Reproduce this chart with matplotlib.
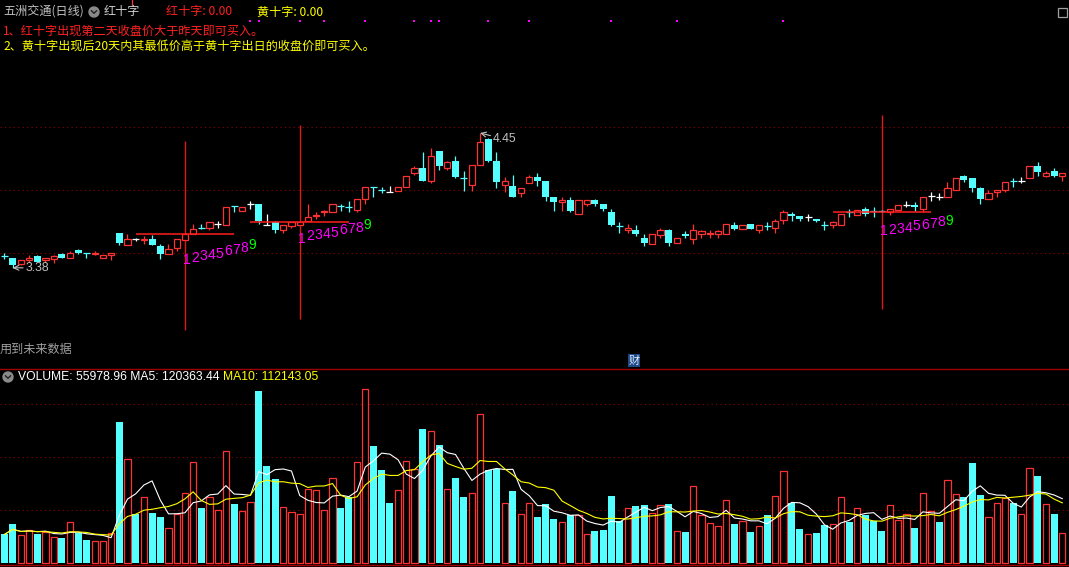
import matplotlib

matplotlib.use("Agg")
import matplotlib.pyplot as plt
import matplotlib.transforms as mtransforms
import numpy as np
import pandas as pd
from matplotlib.patches import Circle, Rectangle

W, H = 1069, 567

# ── daily candles (price) ──
opens = [3.47, 3.46, 3.41, 3.44, 3.47, 3.44, 3.45, 3.49, 3.46, 3.52,
         3.50, 3.49, 3.46, 3.48, 3.66, 3.56, 3.61, 3.60, 3.61, 3.55,
         3.49, 3.54, 3.60, 3.65, 3.70, 3.70, 3.73, 3.72, 3.87, 3.83,
         3.89, 3.89, 3.72, 3.74, 3.68, 3.71, 3.72, 3.75, 3.79, 3.82,
         3.82, 3.87, 3.86, 3.84, 3.93, 4.02, 4.00, 3.98, 3.99, 4.02,
         4.13, 4.17, 4.07, 4.31, 4.17, 4.23, 4.09, 4.04, 4.20, 4.40,
         4.23, 4.04, 4.03, 3.97, 4.05, 4.10, 4.07, 3.94, 3.90, 3.92,
         3.81, 3.89, 3.92, 3.89, 3.82, 3.71, 3.68, 3.68, 3.62, 3.57,
         3.64, 3.68, 3.58, 3.65, 3.61, 3.65, 3.65, 3.65, 3.65, 3.72,
         3.69, 3.73, 3.68, 3.71, 3.70, 3.76, 3.81, 3.79, 3.78, 3.77,
         3.72, 3.72, 3.72, 3.82, 3.80, 3.85, 3.83, 3.83, 3.82, 3.84,
         3.88, 3.88, 3.85, 3.95, 3.94, 3.94, 4.00, 4.11, 4.09, 4.01,
         3.93, 3.98, 4.00, 4.07, 4.07, 4.09, 4.19, 4.11, 4.15, 4.11]
highs = [3.50, 3.46, 3.44, 3.48, 3.48, 3.46, 3.48, 3.50, 3.51, 3.53,
         3.50, 3.51, 3.48, 3.50, 3.66, 3.65, 3.62, 3.63, 3.64, 3.57,
         3.57, 3.61, 3.65, 3.73, 3.73, 3.74, 3.75, 3.86, 3.87, 3.86,
         3.91, 3.89, 3.81, 3.75, 3.72, 3.74, 3.74, 3.89, 3.82, 3.84,
         3.89, 3.89, 3.91, 3.93, 4.02, 4.02, 4.02, 4.03, 4.02, 4.11,
         4.19, 4.30, 4.33, 4.31, 4.23, 4.27, 4.15, 4.20, 4.45, 4.41,
         4.30, 4.10, 4.12, 4.01, 4.12, 4.13, 4.07, 3.94, 3.94, 3.94,
         3.92, 3.92, 3.93, 3.89, 3.85, 3.74, 3.73, 3.72, 3.65, 3.65,
         3.70, 3.69, 3.62, 3.67, 3.73, 3.68, 3.68, 3.68, 3.73, 3.74,
         3.72, 3.73, 3.72, 3.74, 3.77, 3.84, 3.82, 3.79, 3.81, 3.77,
         3.75, 3.75, 3.81, 3.85, 3.84, 3.86, 3.86, 3.84, 3.85, 3.88,
         3.91, 3.90, 3.94, 3.98, 3.97, 4.06, 4.09, 4.12, 4.09, 4.02,
         4.00, 4.00, 4.06, 4.09, 4.10, 4.19, 4.22, 4.15, 4.17, 4.13]
lows = [3.45, 3.38, 3.40, 3.43, 3.43, 3.43, 3.42, 3.46, 3.46, 3.49,
        3.46, 3.48, 3.46, 3.44, 3.56, 3.56, 3.59, 3.57, 3.56, 3.45,
        3.49, 3.51, 3.60, 3.65, 3.69, 3.68, 3.70, 3.72, 3.82, 3.83,
        3.85, 3.73, 3.72, 3.66, 3.66, 3.70, 3.72, 3.75, 3.77, 3.79,
        3.82, 3.83, 3.82, 3.82, 3.89, 3.94, 3.97, 3.98, 3.99, 4.02,
        4.12, 4.07, 4.05, 4.16, 4.16, 4.09, 3.99, 3.99, 4.20, 4.22,
        4.01, 3.98, 3.94, 3.94, 4.05, 4.03, 3.91, 3.83, 3.83, 3.82,
        3.81, 3.87, 3.87, 3.83, 3.71, 3.66, 3.66, 3.63, 3.55, 3.57,
        3.62, 3.55, 3.58, 3.62, 3.57, 3.62, 3.62, 3.62, 3.65, 3.68,
        3.69, 3.69, 3.66, 3.68, 3.66, 3.73, 3.75, 3.75, 3.75, 3.74,
        3.68, 3.70, 3.72, 3.78, 3.80, 3.79, 3.78, 3.82, 3.80, 3.84,
        3.86, 3.83, 3.82, 3.91, 3.92, 3.94, 4.00, 4.06, 3.98, 3.89,
        3.93, 3.94, 3.98, 4.02, 4.05, 4.09, 4.11, 4.10, 4.10, 4.07]
closes = [3.47, 3.40, 3.44, 3.46, 3.43, 3.46, 3.47, 3.46, 3.50, 3.50,
          3.50, 3.50, 3.48, 3.50, 3.58, 3.61, 3.61, 3.61, 3.56, 3.49,
          3.53, 3.61, 3.65, 3.69, 3.70, 3.74, 3.73, 3.86, 3.87, 3.86,
          3.89, 3.75, 3.72, 3.68, 3.72, 3.74, 3.74, 3.78, 3.80, 3.83,
          3.89, 3.87, 3.86, 3.93, 4.02, 4.02, 4.00, 3.98, 4.02, 4.11,
          4.17, 4.07, 4.27, 4.19, 4.22, 4.10, 4.09, 4.20, 4.38, 4.23,
          4.06, 4.07, 3.94, 4.01, 4.10, 4.07, 3.94, 3.90, 3.92, 3.83,
          3.92, 3.92, 3.89, 3.85, 3.72, 3.71, 3.70, 3.65, 3.58, 3.65,
          3.68, 3.58, 3.62, 3.63, 3.68, 3.67, 3.66, 3.67, 3.73, 3.69,
          3.72, 3.69, 3.72, 3.71, 3.75, 3.82, 3.79, 3.77, 3.78, 3.75,
          3.72, 3.74, 3.81, 3.82, 3.84, 3.81, 3.83, 3.83, 3.85, 3.88,
          3.88, 3.86, 3.94, 3.95, 3.94, 4.01, 4.09, 4.08, 4.01, 3.93,
          3.97, 4.00, 4.06, 4.07, 4.07, 4.19, 4.14, 4.13, 4.11, 4.13]
# r = up (hollow red), c = down (cyan), w = white doji
candle_kind = ("ccrrcrrcrc" "crrrcrwrcc" "rrrrcrwrcr" "wcwcrrrrrr"
               "rccrrccwrr" "rcrcrccrrc" "crcrrcccrc" "rrccccrccr"
               "rcrcrrrrrc" "rcrcrrccwc" "crrcrcccrr" "wcrwwrrccc"
               "rrrcwrcrcr")

# ── volume (thousand shares) ──
volumes = [53, 72, 51, 62, 53, 58, 49, 47, 77, 55,
           43, 41, 40, 55, 266, 196, 91, 123, 94, 85,
           66, 92, 132, 189, 102, 123, 100, 211, 110, 98,
           115, 323, 183, 157, 104, 96, 92, 138, 136, 100,
           160, 102, 123, 189, 327, 219, 174, 113, 136, 192,
           177, 251, 249, 221, 138, 160, 123, 132, 281, 174,
           177, 113, 134, 92, 113, 85, 111, 83, 77, 89,
           89, 53, 60, 62, 126, 79, 102, 106, 108, 94,
           109, 111, 60, 57, 145, 89, 74, 68, 117, 72,
           79, 57, 68, 89, 125, 172, 113, 64, 53, 55,
           70, 72, 123, 77, 102, 89, 79, 60, 108, 81,
           91, 66, 132, 98, 77, 155, 130, 123, 187, 128,
           85, 113, 121, 113, 91, 179, 164, 111, 92, 56]
volume_kind = ("ccrrcrrcrc" "crrrcrcrcc" "rrrrcrrrcr" "rcccrrrrrr"
               "rccrrcccrr" "rcrcrccrrc" "crcrrcccrc" "rrccccrccr"
               "rcrcrrrrrc" "rcrcrrccrc" "crrcrcccrr" "rcrrcrrccc"
               "rrrcrrcrcr")

# ── signal overlays ──
base_start = [16, 30, 101]          # horizontal base line start bar
base_end = [28, 42, 113]
base_price = [3.65, 3.74, 3.82]
signal_bar = [22, 36, 107]          # vertical marker bar
signal_top = [4.39, 4.51, 4.59]
signal_bottom = [2.89, 2.97, 3.05]
count_labels = ["1", "2", "3", "4", "5", "6", "7", "8", "9"]
count_prices = [
    [3.44, 3.46, 3.47, 3.48, 3.49, 3.51, 3.52, 3.54, 3.56],
    [3.61, 3.63, 3.64, 3.65, 3.66, 3.68, 3.69, 3.70, 3.72],
    [3.67, 3.68, 3.69, 3.70, 3.71, 3.72, 3.73, 3.74, 3.75],
]
dot_bars = [30, 31, 36, 39, 44, 50, 52, 53, 59, 64, 74, 82, 95]
price_grid = [3.5, 4.0, 4.5]
volume_grid = [100000, 200000, 300000]

RED = "#ff3232"
CYAN = "#54ffff"
GRID = "#8c0000"
GRAY = "#c0c0c0"
kind_color = {"r": RED, "c": CYAN, "w": "white"}

plt.rcParams["font.family"] = ["Noto Sans CJK SC", "DejaVu Sans"]
NUM_FONT = ["Liberation Sans", "DejaVu Sans"]

fig = plt.figure(figsize=(W / 100, H / 100), dpi=100, facecolor="black")

SPLIT = 369
ax = fig.add_axes([0, 1 - SPLIT / H, 1, SPLIT / H])
axv = fig.add_axes([0, 0, 1, (H - SPLIT) / H])
for a in (ax, axv):
    a.set_facecolor("black")
    a.set_axis_off()
    a.set_xlim(-4.5 / 8.2, (W - 4.5) / 8.2)
ax.set_ylim(5.5056 - SPLIT / 126, 5.5056)
axv.set_ylim(-(H - 562.5) / 53 * 1e5, (562.5 - SPLIT) / 53 * 1e5)

# ── Price panel ──
for p in price_grid:
    ax.axhline(p, color=GRID, lw=0.8, ls=(0, (1, 3)), zorder=0)

o = np.array(opens)
h = np.array(highs)
l = np.array(lows)
c = np.array(closes)
x = np.arange(len(c))
kinds = np.array(list(candle_kind))
cols = [kind_color[k] for k in kinds]

ax.vlines(x, l, h, colors=cols, lw=0.9, zorder=2)
up = c > o
dn = c < o
flat = c == o
ax.bar(x[up], (c - o)[up], bottom=o[up], width=0.74, facecolor="black",
       edgecolor=[cols[i] for i in x[up]], lw=0.9, zorder=3)
ax.bar(x[dn], (o - c)[dn], bottom=c[dn], width=0.84,
       color=[cols[i] for i in x[dn]], lw=0, zorder=3)
ax.hlines(o[flat], x[flat] - 0.42, x[flat] + 0.42,
          colors=[cols[i] for i in x[flat]], lw=0.9, zorder=3)

# base lines, signal bars, day counters
for s, e, p in zip(base_start, base_end, base_price):
    ax.hlines(p, s, e, color="#ff1e1e", lw=1.1, zorder=4)
for b, t, btm in zip(signal_bar, signal_top, signal_bottom):
    ax.vlines(b, btm, t, color="#e01818", lw=1.0, zorder=1)
for b, prices in zip(signal_bar, count_prices):
    for k, (lab, p) in enumerate(zip(count_labels, prices)):
        ax.text(b + k + 0.25, p, lab, color="#00ff00" if lab == "9" else "#ff00ff",
                fontsize=10, family=NUM_FONT, ha="center", va="center", zorder=5)

dot_tr = mtransforms.blended_transform_factory(ax.transData, ax.transAxes)
ax.plot(dot_bars, [1 - 21 / SPLIT] * len(dot_bars), "s", color="#ff00ff",
        ms=2, mew=0, transform=dot_tr)

# high / low markers
i_lo = int(np.argmin(l))
i_hi = int(np.argmax(h))
ax.annotate(f"{l[i_lo]:.2f}", xy=(i_lo, l[i_lo]), xytext=(i_lo + 1.6, l[i_lo]),
            color=GRAY, fontsize=8.8, family=NUM_FONT, va="center",
            arrowprops=dict(arrowstyle="->", color=GRAY, lw=0.8, shrinkA=0, shrinkB=0))
ax.annotate(f"{h[i_hi]:.2f}", xy=(i_hi, h[i_hi]), xytext=(i_hi + 1.6, h[i_hi] - 0.05),
            color=GRAY, fontsize=8.8, family=NUM_FONT, va="center",
            arrowprops=dict(arrowstyle="->", color=GRAY, lw=0.8, shrinkA=0, shrinkB=0))

# ── Volume panel ──
for v in volume_grid:
    axv.axhline(v, color=GRID, lw=0.8, ls=(0, (1, 3)), zorder=0)

vol = pd.Series(volumes, dtype=float) * 1000
vk = np.array(list(volume_kind))
vup = vk == "r"
axv.bar(x[vup], vol[vup], width=0.76, facecolor="black", edgecolor=RED, lw=0.9, zorder=2)
axv.bar(x[~vup], vol[~vup], width=0.86, color=CYAN, lw=0, zorder=2)
ma5 = vol.rolling(5, min_periods=1).mean()
ma10 = vol.rolling(10, min_periods=1).mean()
axv.plot(x, ma5, color="white", lw=0.8, zorder=3)
axv.plot(x, ma10, color="#ffff00", lw=0.8, zorder=3)

# ── Overlay in pixel coordinates: headers and chrome ──
ov = fig.add_axes([0, 0, 1, 1])
ov.set_xlim(0, W)
ov.set_ylim(H, 0)
ov.set_axis_off()
ov.patch.set_alpha(0)

fs = 8.7
ov.text(3, 12, "五洲交通(日线)", color=GRAY, fontsize=fs, va="center")
ov.add_patch(Circle((94, 12), 5, color="#8a8a8a"))
ov.plot([91.5, 94, 96.5], [10.8, 13.3, 10.8], color="#222222", lw=1.0)
ov.text(104, 12, "红十字", color="#d0d0d0", fontsize=fs, va="center")
ov.text(166, 12, "红十字: 0.00", color="#ff2020", fontsize=fs, va="center")
ov.text(257, 12, "黄十字: 0.00", color="#ffff00", fontsize=fs, va="center")
ov.text(3, 31.5, "1、红十字出现第二天收盘价大于昨天即可买入。", color="#ff2020",
        fontsize=fs, va="center")
ov.text(3, 46, "2、黄十字出现后20天内其最低价高于黄十字出日的收盘价即可买入。",
        color="#ffff00", fontsize=fs, va="center")
ov.add_patch(Rectangle((1057.5, 7.5), 9, 9, facecolor="none", edgecolor="#a0a0a0", lw=0.9))
ov.plot([132, 132], [0, 5], color=RED, lw=0.9)

ov.text(0, 349, "用到未来数据", color="#a0a0a0", fontsize=fs, va="center")
ov.add_patch(Rectangle((628, 354), 12, 13, facecolor="#1d4a86", edgecolor="none"))
ov.text(634, 360.5, "财", color="#e0ecff", fontsize=8, ha="center", va="center")

ov.plot([0, W], [369, 369], color="#a00000", lw=1.0)
ov.plot([0, W], [565, 565], color="#a00000", lw=1.0)
ov.add_patch(Circle((8, 377), 5, color="#8a8a8a"))
ov.plot([5.5, 8, 10.5], [375.8, 378.3, 375.8], color="#222222", lw=1.0)
ov.text(18, 377, "VOLUME: 55978.96 MA5: 120363.44", color="white", fontsize=fs,
        family=NUM_FONT, va="center")
ov.text(223, 377, "MA10: 112143.05", color="#ffff00", fontsize=fs,
        family=NUM_FONT, va="center")

fig.savefig("out.png", dpi=100, facecolor="black")
